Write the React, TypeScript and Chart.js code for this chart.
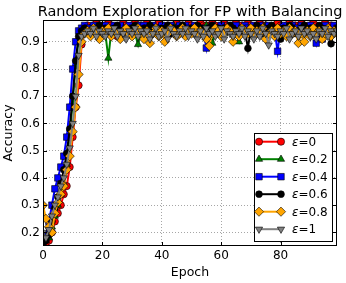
import React, { useEffect, useRef } from "react";
import { Chart, registerables } from "chart.js";

Chart.register(...registerables);

const epochs: number[] = Array.from({ length: 100 }, (_, i) => i);

const seriesLabels = ["0", "0.2", "0.4", "0.6", "0.8", "1"];

const accEps0 = [
  0.16, 0.15, 0.17, 0.20, 0.24, 0.27, 0.30, 0.34, 0.37, 0.44,
  0.55, 0.66, 0.74, 0.89, 0.95, 0.96, 0.95, 0.96, 0.97, 0.96,
  0.95, 0.96, 0.97, 0.96, 0.95, 0.92, 0.96, 0.97, 0.96, 0.95,
  0.96, 0.97, 0.96, 0.96, 0.95, 0.97, 0.96, 0.95, 0.96, 0.97,
  0.96, 0.95, 0.96, 0.93, 0.96, 0.97, 0.96, 0.96, 0.95, 0.97,
  0.96, 0.95, 0.96, 0.97, 0.96, 0.96, 0.95, 0.97, 0.96, 0.95,
  0.96, 0.97, 0.96, 0.95, 0.96, 0.97, 0.96, 0.96, 0.95, 0.97,
  0.96, 0.95, 0.96, 0.97, 0.96, 0.96, 0.95, 0.93, 0.96, 0.97,
  0.96, 0.95, 0.96, 0.97, 0.96, 0.96, 0.95, 0.97, 0.96, 0.95,
  0.96, 0.97, 0.96, 0.95, 0.96, 0.97, 0.96, 0.96, 0.95, 0.96,
];

const accEps02 = [
  0.16, 0.17, 0.18, 0.22, 0.26, 0.30, 0.34, 0.38, 0.45, 0.55,
  0.68, 0.81, 0.91, 0.94, 0.95, 0.94, 0.95, 0.93, 0.94, 0.95,
  0.94, 0.93, 0.84, 0.94, 0.95, 0.94, 0.93, 0.95, 0.94, 0.95,
  0.94, 0.93, 0.89, 0.94, 0.95, 0.94, 0.96, 0.94, 0.93, 0.95,
  0.94, 0.95, 0.93, 0.94, 0.96, 0.95, 0.94, 0.93, 0.95, 0.94,
  0.95, 0.94, 0.93, 0.95, 0.94, 0.96, 0.94, 0.895, 0.94, 0.95,
  0.94, 0.93, 0.95, 0.94, 0.95, 0.93, 0.90, 0.94, 0.95, 0.94,
  0.95, 0.94, 0.93, 0.95, 0.94, 0.96, 0.94, 0.93, 0.95, 0.94,
  0.95, 0.94, 0.93, 0.95, 0.94, 0.93, 0.95, 0.94, 0.96, 0.94,
  0.93, 0.95, 0.94, 0.95, 0.93, 0.94, 0.95, 0.94, 0.93, 0.95,
];

const accEps04 = [
  0.17, 0.19, 0.24, 0.30, 0.36, 0.40, 0.44, 0.48, 0.55, 0.66,
  0.80, 0.90, 0.94, 0.95, 0.96, 0.95, 0.94, 0.96, 0.95, 0.96,
  0.95, 0.96, 0.94, 0.95, 0.96, 0.95, 0.96, 0.94, 0.95, 0.96,
  0.95, 0.94, 0.96, 0.95, 0.96, 0.95, 0.94, 0.96, 0.95, 0.95,
  0.96, 0.94, 0.95, 0.96, 0.95, 0.94, 0.96, 0.95, 0.96, 0.95,
  0.94, 0.96, 0.95, 0.95, 0.94, 0.877, 0.95, 0.96, 0.95, 0.94,
  0.96, 0.95, 0.94, 0.96, 0.95, 0.96, 0.94, 0.95, 0.96, 0.95,
  0.94, 0.96, 0.95, 0.96, 0.95, 0.94, 0.96, 0.95, 0.94, 0.865,
  0.95, 0.96, 0.94, 0.95, 0.96, 0.95, 0.94, 0.96, 0.95, 0.94,
  0.96, 0.95, 0.895, 0.95, 0.91, 0.96, 0.94, 0.95, 0.96, 0.95,
];

const accEps06 = [
  0.16, 0.17, 0.19, 0.24, 0.29, 0.33, 0.38, 0.43, 0.49, 0.58,
  0.70, 0.83, 0.92, 0.94, 0.95, 0.94, 0.93, 0.95, 0.94, 0.96,
  0.94, 0.95, 0.93, 0.94, 0.95, 0.96, 0.94, 0.93, 0.95, 0.94,
  0.95, 0.96, 0.94, 0.93, 0.95, 0.94, 0.96, 0.95, 0.93, 0.94,
  0.95, 0.94, 0.96, 0.93, 0.95, 0.94, 0.95, 0.96, 0.94, 0.93,
  0.95, 0.94, 0.96, 0.95, 0.93, 0.94, 0.95, 0.96, 0.94, 0.95,
  0.93, 0.95, 0.94, 0.96, 0.95, 0.94, 0.93, 0.95, 0.94, 0.876,
  0.95, 0.94, 0.96, 0.95, 0.93, 0.94, 0.95, 0.96, 0.94, 0.95,
  0.91, 0.95, 0.94, 0.96, 0.95, 0.93, 0.94, 0.95, 0.96, 0.94,
  0.95, 0.94, 0.93, 0.96, 0.95, 0.94, 0.95, 0.893, 0.94, 0.95,
];

const accEps08 = [
  0.30, 0.25, 0.22, 0.20, 0.27, 0.31, 0.34, 0.37, 0.43, 0.48,
  0.57, 0.66, 0.78, 0.90, 0.93, 0.94, 0.92, 0.95, 0.93, 0.91,
  0.94, 0.93, 0.95, 0.92, 0.94, 0.93, 0.91, 0.94, 0.95, 0.93,
  0.92, 0.94, 0.95, 0.93, 0.91, 0.94, 0.895, 0.93, 0.95, 0.92,
  0.94, 0.90, 0.93, 0.95, 0.94, 0.92, 0.93, 0.95, 0.92, 0.94,
  0.93, 0.95, 0.92, 0.94, 0.93, 0.91, 0.885, 0.93, 0.95, 0.94,
  0.92, 0.93, 0.95, 0.94, 0.90, 0.93, 0.92, 0.95, 0.94, 0.93,
  0.95, 0.92, 0.94, 0.93, 0.95, 0.91, 0.93, 0.94, 0.92, 0.95,
  0.93, 0.94, 0.92, 0.95, 0.93, 0.94, 0.895, 0.93, 0.90, 0.94,
  0.92, 0.95, 0.93, 0.94, 0.91, 0.93, 0.95, 0.92, 0.94, 0.93,
];

const accEps1 = [
  0.20, 0.18, 0.21, 0.26, 0.30, 0.33, 0.37, 0.40, 0.45, 0.51,
  0.60, 0.70, 0.85, 0.92, 0.93, 0.94, 0.93, 0.95, 0.92, 0.94,
  0.93, 0.92, 0.94, 0.93, 0.95, 0.92, 0.94, 0.93, 0.91, 0.94,
  0.93, 0.95, 0.92, 0.94, 0.93, 0.94, 0.91, 0.93, 0.95, 0.92,
  0.93, 0.94, 0.91, 0.95, 0.93, 0.92, 0.94, 0.93, 0.95, 0.92,
  0.94, 0.93, 0.91, 0.94, 0.92, 0.95, 0.93, 0.94, 0.92, 0.93,
  0.95, 0.91, 0.94, 0.93, 0.92, 0.94, 0.93, 0.95, 0.92, 0.94,
  0.93, 0.91, 0.94, 0.92, 0.95, 0.93, 0.888, 0.94, 0.93, 0.92,
  0.94, 0.93, 0.95, 0.91, 0.93, 0.94, 0.92, 0.95, 0.93, 0.94,
  0.92, 0.93, 0.91, 0.94, 0.93, 0.95, 0.92, 0.94, 0.93, 0.94,
];

const allSeries = [accEps0, accEps02, accEps04, accEps06, accEps08, accEps1];
const colors = ["#ff0000", "#008000", "#0000ff", "#000000", "#ffa500", "#808080"];
const markers = ["circle", "triangle", "rect", "circle", "rectRot", "triangleDown"];
const radii = [3.6, 4.2, 4.6, 3.4, 4.6, 4.2];

const xTicks = [0, 20, 40, 60, 80];
const yTicks = [0.2, 0.3, 0.4, 0.5, 0.6, 0.7, 0.8, 0.9];

const FONT = "'DejaVu Sans', 'Liberation Sans', sans-serif";

function markerPath(ctx: CanvasRenderingContext2D, kind: string, x: number, y: number, r: number) {
  ctx.beginPath();
  if (kind === "circle") {
    ctx.arc(x, y, r, 0, Math.PI * 2);
  } else if (kind === "triangle" || kind === "triangleDown") {
    const s = kind === "triangle" ? 1 : -1;
    for (let k = 0; k < 3; k++) {
      const a = (k * 2 * Math.PI) / 3;
      const px = x + Math.sin(a) * r;
      const py = y - s * Math.cos(a) * r;
      if (k === 0) ctx.moveTo(px, py);
      else ctx.lineTo(px, py);
    }
    ctx.closePath();
  } else if (kind === "rect") {
    const h = r * Math.SQRT1_2;
    ctx.rect(x - h, y - h, 2 * h, 2 * h);
  } else {
    ctx.moveTo(x, y - r);
    ctx.lineTo(x + r, y);
    ctx.lineTo(x, y + r);
    ctx.lineTo(x - r, y);
    ctx.closePath();
  }
}

const decorPlugin = {
  id: "decor",
  afterDraw(chart: any) {
    const ctx: CanvasRenderingContext2D = chart.ctx;
    const a = chart.chartArea;
    const xs = chart.scales.x;
    const ys = chart.scales.y;
    ctx.save();
    ctx.strokeStyle = "#000";
    ctx.lineWidth = 1;
    ctx.strokeRect(Math.round(a.left) + 0.5, Math.round(a.top) + 0.5, Math.round(a.right - a.left) - 1, Math.round(a.bottom - a.top) - 1);
    ctx.beginPath();
    for (const v of xTicks) {
      const px = Math.round(xs.getPixelForValue(v)) + 0.5;
      ctx.moveTo(px, a.bottom);
      ctx.lineTo(px, a.bottom - 4);
      ctx.moveTo(px, a.top);
      ctx.lineTo(px, a.top + 4);
    }
    for (const v of yTicks) {
      const py = Math.round(ys.getPixelForValue(v)) + 0.5;
      ctx.moveTo(a.left, py);
      ctx.lineTo(a.left + 4, py);
      ctx.moveTo(a.right, py);
      ctx.lineTo(a.right - 4, py);
    }
    ctx.stroke();
    ctx.fillStyle = "#000";
    ctx.font = `14.5px ${FONT}`;
    ctx.textAlign = "center";
    ctx.textBaseline = "alphabetic";
    ctx.fillText("Random Exploration for FP with Balancing", (a.left + a.right) / 2, 16);
    const bx = 254, by = 133, bw = 78, bh = 108;
    ctx.fillStyle = "#fff";
    ctx.fillRect(bx, by, bw, bh);
    ctx.strokeStyle = "#000";
    ctx.lineWidth = 1;
    ctx.strokeRect(bx + 0.5, by + 0.5, bw, bh);
    for (let i = 0; i < allSeries.length; i++) {
      const yy = 141.7 + i * 17.5;
      ctx.strokeStyle = colors[i];
      ctx.lineWidth = 2;
      ctx.beginPath();
      ctx.moveTo(259, yy);
      ctx.lineTo(281, yy);
      ctx.stroke();
      for (const mx of [259, 281]) {
        markerPath(ctx, markers[i], mx, yy, radii[i]);
        ctx.fillStyle = colors[i];
        ctx.fill();
        ctx.strokeStyle = "#000";
        ctx.lineWidth = 0.6;
        ctx.stroke();
      }
      ctx.fillStyle = "#000";
      ctx.textAlign = "left";
      ctx.textBaseline = "middle";
      ctx.font = `italic 12px ${FONT}`;
      ctx.fillText("\u03b5", 292, yy + 1);
      const w = ctx.measureText("\u03b5").width;
      ctx.font = `12px ${FONT}`;
      ctx.fillText("=" + seriesLabels[i], 292 + w, yy + 1);
    }
    ctx.restore();
  },
};

export default function App() {
  const ref = useRef<HTMLCanvasElement | null>(null);
  useEffect(() => {
    if (!ref.current) return;
    const datasets = allSeries.map((arr, i) => ({
      label: "\u03b5=" + seriesLabels[i],
      data: arr.map((v, j) => ({ x: epochs[j], y: v })),
      borderColor: colors[i],
      backgroundColor: colors[i],
      borderWidth: 2,
      pointRadius: radii[i],
      pointStyle: markers[i] === "triangleDown" ? "triangle" : markers[i],
      pointRotation: markers[i] === "triangleDown" ? 180 : 0,
      pointBackgroundColor: colors[i],
      pointBorderColor: "#000",
      pointBorderWidth: 0.6,
      tension: 0,
      clip: 0,
      order: allSeries.length - 1 - i,
    }));
    const chart = new Chart(ref.current, {
      type: "line",
      data: { datasets },
      plugins: [decorPlugin],
      options: {
        responsive: false,
        animation: false,
        events: [],
        layout: { padding: { top: 20, right: 9, left: 0, bottom: 0 } },
        plugins: { legend: { display: false }, tooltip: { enabled: false }, title: { display: false } },
        scales: {
          x: {
            type: "linear",
            min: 0,
            max: 99,
            afterFit: (s: any) => { s.height = 37; },
            afterBuildTicks: (s: any) => { s.ticks = xTicks.map((v) => ({ value: v })); },
            ticks: { font: { family: FONT, size: 12 }, color: "#000", padding: 3, maxRotation: 0, callback: (v: any) => String(v) },
            grid: { color: "rgba(0,0,0,0.35)", lineWidth: 1, drawTicks: false },
            border: { display: false, dash: [1, 2] },
            title: { display: true, text: "Epoch", font: { family: FONT, size: 12.5 }, color: "#000", padding: { top: 0, bottom: 3 } },
          },
          y: {
            type: "linear",
            min: 0.15,
            max: 0.98,
            afterFit: (s: any) => { s.width = 43; },
            afterBuildTicks: (s: any) => { s.ticks = yTicks.map((v) => ({ value: v })); },
            ticks: { font: { family: FONT, size: 12 }, color: "#000", padding: 3, callback: (v: any) => Number(v).toFixed(1) },
            grid: { color: "rgba(0,0,0,0.35)", lineWidth: 1, drawTicks: false },
            border: { display: false, dash: [1, 2] },
            title: { display: true, text: "Accuracy", font: { family: FONT, size: 12.5 }, color: "#000", padding: { top: 1, bottom: 0 } },
          },
        },
      },
    } as any);
    return () => chart.destroy();
  }, []);
  return (
    <div style={{ position: "absolute", left: 0, top: 0, width: 346, height: 283, background: "#fff" }}>
      <canvas ref={ref} width={346} height={283} style={{ display: "block" }} />
    </div>
  );
}
